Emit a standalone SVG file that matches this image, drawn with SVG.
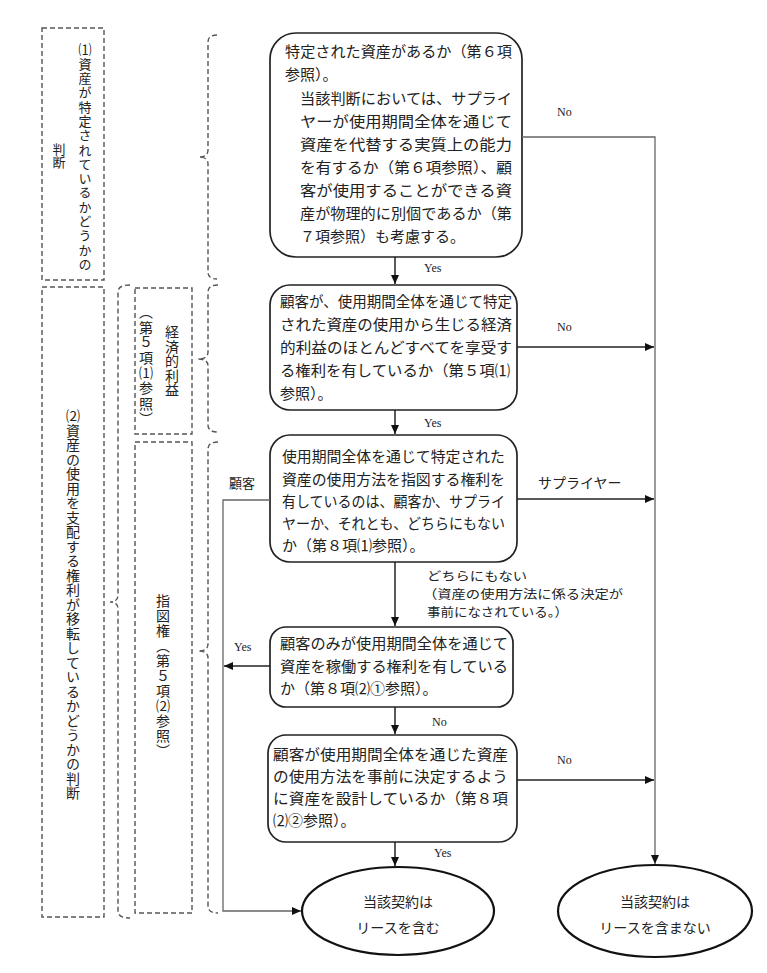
<svg xmlns="http://www.w3.org/2000/svg" width="767" height="973" viewBox="0 0 767 973">
<defs>
<marker id="ah" markerWidth="10" markerHeight="10" refX="9" refY="5" orient="auto" markerUnits="userSpaceOnUse">
<path d="M0,1 L9,5 L0,9 Z" fill="#111"/>
</marker>
<style>
.jp{font-family:"Noto Sans CJK JP","Noto Sans CJK SC",sans-serif;fill:#222;}
.box{font-size:15px;}
.lab{font-size:14px;}
.en{font-family:"Liberation Serif",serif;font-size:12px;fill:#222;}
.node{fill:#fff;stroke:#222;stroke-width:1.7;}
.ell{fill:#fff;stroke:#111;stroke-width:2.2;}
.dash{fill:none;stroke:#555;stroke-width:1.4;stroke-dasharray:5 3;}
.conn{fill:none;stroke:#222;stroke-width:1.5;}
.thin{fill:none;stroke:#666;stroke-width:1.3;}
.vt{writing-mode:vertical-rl;}
</style>
</defs>
<rect width="767" height="973" fill="#fff"/>

<g id="side-labels">
<rect class="dash" x="42" y="28" width="62" height="252"/>
<text class="jp vt" x="85" y="43" font-size="13" letter-spacing="1.3">⑴資産が特定されているかどうかの</text>
<text class="jp vt" x="59" y="143" font-size="13">判断</text>
<rect class="dash" x="42" y="287" width="62" height="630"/>
<text class="jp vt" x="73" y="409" font-size="14" letter-spacing="0.5">⑵資産の使用を支配する権利が移転しているかどうかの判断</text>
<rect class="dash" x="135" y="288" width="57" height="146"/>
<text class="jp vt" x="172" y="325" font-size="14" letter-spacing="0.4">経済的利益</text>
<text class="jp vt" x="146" y="305" font-size="14" letter-spacing="1.2">（第５項⑴参照）</text>
<rect class="dash" x="135" y="442" width="57" height="471"/>
<text class="jp vt" x="163" y="594" font-size="14" letter-spacing="1">指図権（第５項⑵参照）</text>
</g>

<g id="brackets">
<path class="dash" d="M217,35 Q208,35 208,42 V150 Q208,157 199,157 Q208,157 208,164 V272 Q208,279 217,279"/>
<path class="dash" d="M130,285 Q118,285 118,292 V595 Q118,602 110,602 Q118,602 118,609 V911 Q118,918 130,918"/>
<path class="dash" d="M218,285 Q208,285 208,292 V352 Q208,359 198,359 Q208,359 208,366 V425 Q208,432 218,432"/>
<path class="dash" d="M218,442 Q208,442 208,449 V644 Q208,651 198,651 Q208,651 208,658 V906 Q208,913 218,913"/>
</g>

<g id="n1">
<rect class="node" x="270" y="33" width="252" height="224" rx="26"/>
<text class="jp box" x="285" y="57" textLength="227" lengthAdjust="spacingAndGlyphs">特定された資産があるか（第６項</text>
<text class="jp box" x="285" y="80">参照）。</text>
<text class="jp box" x="300" y="104" textLength="212" lengthAdjust="spacingAndGlyphs">当該判断においては、サプライ</text>
<text class="jp box" x="300" y="127" textLength="212" lengthAdjust="spacingAndGlyphs">ヤーが使用期間全体を通じて</text>
<text class="jp box" x="300" y="150" textLength="212" lengthAdjust="spacingAndGlyphs">資産を代替する実質上の能力</text>
<text class="jp box" x="300" y="173" textLength="212" lengthAdjust="spacingAndGlyphs">を有するか（第６項参照）、顧</text>
<text class="jp box" x="300" y="196" textLength="212" lengthAdjust="spacingAndGlyphs">客が使用することができる資</text>
<text class="jp box" x="300" y="219" textLength="212" lengthAdjust="spacingAndGlyphs">産が物理的に別個であるか（第</text>
<text class="jp box" x="300" y="242">７項参照）も考慮する。</text>
</g>

<g id="n2">
<rect class="node" x="270" y="285" width="247" height="125" rx="20"/>
<text class="jp box" x="280" y="307" textLength="232" lengthAdjust="spacingAndGlyphs">顧客が、使用期間全体を通じて特定</text>
<text class="jp box" x="280" y="330" textLength="232" lengthAdjust="spacingAndGlyphs">された資産の使用から生じる経済</text>
<text class="jp box" x="280" y="353" textLength="232" lengthAdjust="spacingAndGlyphs">的利益のほとんどすべてを享受す</text>
<text class="jp box" x="280" y="376" textLength="230" lengthAdjust="spacingAndGlyphs">る権利を有しているか（第５項⑴</text>
<text class="jp box" x="280" y="399">参照）。</text>
</g>

<g id="n3">
<rect class="node" x="270" y="435" width="247" height="127" rx="20"/>
<text class="jp box" x="282" y="462" textLength="223" lengthAdjust="spacingAndGlyphs">使用期間全体を通じて特定された</text>
<text class="jp box" x="282" y="485" textLength="223" lengthAdjust="spacingAndGlyphs">資産の使用方法を指図する権利を</text>
<text class="jp box" x="282" y="507" textLength="223" lengthAdjust="spacingAndGlyphs">有しているのは、顧客か、サプライ</text>
<text class="jp box" x="282" y="529" textLength="223" lengthAdjust="spacingAndGlyphs">ヤーか、それとも、どちらにもない</text>
<text class="jp box" x="282" y="551">か（第８項⑴参照）。</text>
</g>

<g id="n4">
<rect class="node" x="270" y="627" width="243" height="80" rx="16"/>
<text class="jp box" x="280" y="649" textLength="228" lengthAdjust="spacingAndGlyphs">顧客のみが使用期間全体を通じて</text>
<text class="jp box" x="280" y="672" textLength="228" lengthAdjust="spacingAndGlyphs">資産を稼働する権利を有している</text>
<text class="jp box" x="280" y="694">か（第８項⑵①参照）。</text>
</g>

<g id="n5">
<rect class="node" x="268" y="735" width="249" height="107" rx="18"/>
<text class="jp box" x="273" y="760" textLength="235" lengthAdjust="spacingAndGlyphs">顧客が使用期間全体を通じた資産</text>
<text class="jp box" x="273" y="782" textLength="235" lengthAdjust="spacingAndGlyphs">の使用方法を事前に決定するよう</text>
<text class="jp box" x="273" y="804" textLength="235" lengthAdjust="spacingAndGlyphs">に資産を設計しているか（第８項</text>
<text class="jp box" x="273" y="826">⑵②参照）。</text>
</g>

<g id="e1">
<ellipse class="ell" cx="398" cy="911" rx="96" ry="44"/>
<text class="jp lab" x="398" y="907" text-anchor="middle">当該契約は</text>
<text class="jp lab" x="398" y="933" text-anchor="middle">リースを含む</text>
</g>

<g id="e2">
<ellipse class="ell" cx="655" cy="911" rx="97" ry="46"/>
<text class="jp lab" x="655" y="907" text-anchor="middle">当該契約は</text>
<text class="jp lab" x="655" y="933" text-anchor="middle">リースを含まない</text>
</g>

<g id="connectors">
<path class="conn" d="M395,257 V284" marker-end="url(#ah)"/>
<path class="conn" d="M395,410 V434" marker-end="url(#ah)"/>
<path class="conn" d="M395,562 V626" marker-end="url(#ah)"/>
<path class="conn" d="M395,707 V734" marker-end="url(#ah)"/>
<path class="conn" d="M395,842 V866" marker-end="url(#ah)"/>
<path class="thin" d="M522,137 H655 V864" marker-end="url(#ah)"/>
<path class="conn" d="M517,347 H654" marker-end="url(#ah)"/>
<path class="conn" d="M517,499 H654" marker-end="url(#ah)"/>
<path class="conn" d="M517,780 H654" marker-end="url(#ah)"/>
<path class="thin" d="M270,500 H223 V911 H301" marker-end="url(#ah)"/>
<path class="conn" d="M270,666 H224" marker-end="url(#ah)"/>
<text class="en" x="424" y="272">Yes</text>
<text class="en" x="424" y="427">Yes</text>
<text class="en" x="234" y="651">Yes</text>
<text class="en" x="432" y="726">No</text>
<text class="en" x="434" y="857">Yes</text>
<text class="en" x="557" y="116">No</text>
<text class="en" x="557" y="331">No</text>
<text class="en" x="557" y="764">No</text>
<text class="jp" x="242" y="488" font-size="13" text-anchor="middle">顧客</text>
<text class="jp lab" x="538" y="488">サプライヤー</text>
<text class="jp" x="427" y="581" font-size="12.5" textLength="100" lengthAdjust="spacingAndGlyphs">どちらにもない</text>
<text class="jp" x="423" y="599" font-size="12.5" textLength="200" lengthAdjust="spacingAndGlyphs">（資産の使用方法に係る決定が</text>
<text class="jp" x="427" y="617" font-size="12.5" textLength="141" lengthAdjust="spacingAndGlyphs">事前になされている。）</text>
</g>
</svg>
